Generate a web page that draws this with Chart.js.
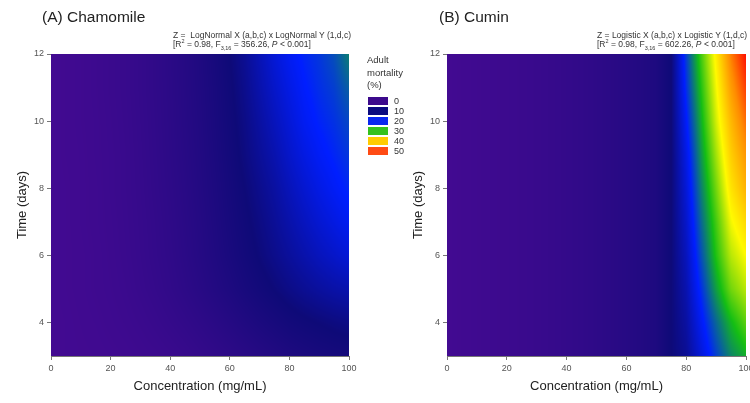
<!DOCTYPE html>
<html>
<head>
<meta charset="utf-8">
<script src="https://cdn.jsdelivr.net/npm/chart.js@4.4.1/dist/chart.umd.min.js"></script>
<style>
  body { margin: 0; width: 750px; height: 403px; overflow: hidden; background: #fff; position: relative;
         font-family: "Liberation Sans", Arial, sans-serif; color: #222; }
  canvas { position: absolute; top: 0; }
  .t { position: absolute; white-space: nowrap; line-height: 1; }
  .panel { font-size: 15.5px; }
  .eq { font-size: 8.5px; color: #333; }
  .eq sub, .eq sup { font-size: 5.5px; line-height: 0; }
  .lg { font-size: 9.5px; color: #333; line-height: 12.5px; }
  .sw { position: absolute; left: 368px; width: 20px; height: 8px; }
  .sl { position: absolute; left: 394px; font-size: 9px; color: #333; line-height: 1; }
</style>
</head>
<body>
<canvas id="chamChart" width="375" height="403" style="left:0"></canvas>
<canvas id="cuminChart" width="390" height="403" style="left:375px"></canvas>

<div class="t panel" style="left:42px;top:9px">(A) Chamomile</div>
<div class="t eq" style="left:173px;top:31px">Z =&nbsp; LogNormal X (a,b,c) x LogNormal Y (1,d,c)</div>
<div class="t eq" style="left:173px;top:40px">[R<sup>2</sup> = 0.98, F<sub>3,16</sub> = 356.26, <i>P</i> &lt; 0.001]</div>

<div class="t panel" style="left:439px;top:9px">(B) Cumin</div>
<div class="t eq" style="left:597px;top:31px">Z = Logistic X (a,b,c) x Logistic Y (1,d,c)</div>
<div class="t eq" style="left:597px;top:40px">[R<sup>2</sup> = 0.98, F<sub>3,16</sub> = 602.26, <i>P</i> &lt; 0.001]</div>

<div class="t lg" style="left:367px;top:54px">Adult<br>mortality<br>(%)</div>
<div id="legend"></div>

<script>
// concentration (mg/mL) and time (days) grid of the fitted surfaces
const CONC = [0, 5, 10, 15, 20, 25, 30, 35, 40, 45, 50, 55, 60, 65, 70, 75, 80, 85, 90, 95, 100];
const TIME = [3, 4, 5, 6, 7, 8, 9, 10, 11, 12];

const CONC_TICKS = [0, 20, 40, 60, 80, 100];
const TIME_TICKS = [4, 6, 8, 10, 12];

const LEGEND_VALUES = [0, 10, 20, 30, 40, 50];

// adult mortality (%), one row per day (3 .. 12), one value per concentration
const CHAMOMILE_Z = [
  [0, 0.1, 0.2, 0.3, 0.5, 0.7, 1.0, 1.3, 1.7, 2.2, 2.8, 3.4, 4.1, 4.8, 5.5, 6.2, 6.9, 7.5, 8.0, 8.4, 8.7],
  [0, 0.1, 0.3, 0.5, 0.8, 1.1, 1.5, 2.0, 2.6, 3.2, 3.9, 4.7, 5.6, 6.5, 7.4, 8.2, 9.0, 9.6, 10.1, 10.6, 11],
  [0, 0.2, 0.4, 0.7, 1.0, 1.4, 2.0, 2.6, 3.3, 4.1, 5.0, 6.0, 7.0, 8.1, 9.1, 10.1, 11.1, 12, 12.8, 13.5, 14],
  [0, 0.2, 0.4, 0.7, 1.1, 1.6, 2.2, 2.9, 3.6, 4.5, 5.5, 6.6, 7.8, 9.0, 10.2, 11.4, 12.6, 13.8, 15, 16, 17],
  [0, 0.2, 0.5, 0.8, 1.2, 1.7, 2.3, 3.0, 3.8, 4.7, 5.7, 6.9, 8.2, 9.5, 10.8, 12.2, 13.7, 15.2, 16.6, 17.8, 19],
  [0, 0.2, 0.5, 0.8, 1.3, 1.8, 2.4, 3.2, 4.0, 4.9, 6.0, 7.2, 8.6, 10, 11.5, 13, 14.8, 16.5, 18, 19.3, 20.5],
  [0, 0.3, 0.5, 0.9, 1.3, 1.8, 2.5, 3.3, 4.2, 5.1, 6.2, 7.5, 9.0, 10.6, 12.3, 14, 16, 17.8, 19.3, 20.4, 21.5],
  [0, 0.3, 0.6, 0.9, 1.4, 1.9, 2.6, 3.4, 4.3, 5.3, 6.4, 7.8, 9.3, 11, 13, 15, 17, 19, 20.3, 21.2, 22.5],
  [0, 0.3, 0.6, 1.0, 1.5, 2.0, 2.7, 3.5, 4.4, 5.4, 6.6, 8.0, 9.6, 11.5, 13.8, 16, 18, 19.8, 21, 22, 24],
  [0, 0.3, 0.6, 1.0, 1.5, 2.0, 2.7, 3.5, 4.5, 5.5, 6.8, 8.3, 10, 12, 14.5, 17, 19, 20.5, 21.5, 23, 26]
];

const CUMIN_Z = [
  [0, 0.3, 0.6, 0.9, 1.2, 1.5, 1.9, 2.3, 2.8, 3.3, 3.9, 4.6, 5.3, 6.1, 7, 10, 12, 17, 22, 26.5, 29],
  [0, 0.3, 0.6, 0.9, 1.2, 1.5, 1.9, 2.3, 2.8, 3.3, 3.9, 4.6, 5.3, 6.1, 7, 10, 13, 19, 24.5, 29.5, 33],
  [0, 0.3, 0.6, 0.9, 1.2, 1.5, 1.9, 2.3, 2.8, 3.3, 3.9, 4.6, 5.3, 6.1, 7, 10, 14, 21, 28, 34, 37],
  [0, 0.3, 0.6, 0.9, 1.2, 1.5, 1.9, 2.3, 2.8, 3.3, 3.9, 4.6, 5.3, 6.1, 7, 10, 15, 23, 30.5, 37, 40],
  [0, 0.3, 0.6, 0.9, 1.2, 1.5, 1.9, 2.3, 2.8, 3.3, 3.9, 4.6, 5.3, 6.1, 7, 10, 16, 24.5, 32, 39.5, 43],
  [0, 0.3, 0.6, 0.9, 1.2, 1.5, 1.9, 2.3, 2.8, 3.3, 3.9, 4.6, 5.3, 6.1, 7, 10, 17, 26, 34, 42, 46.5],
  [0, 0.3, 0.6, 0.9, 1.2, 1.5, 1.9, 2.3, 2.8, 3.3, 3.9, 4.6, 5.3, 6.1, 7, 10, 18, 27.5, 36, 44, 49],
  [0, 0.3, 0.6, 0.9, 1.2, 1.5, 1.9, 2.3, 2.8, 3.3, 3.9, 4.6, 5.3, 6.1, 7, 10, 19.5, 29, 38, 46, 52],
  [0, 0.3, 0.6, 0.9, 1.2, 1.5, 1.9, 2.3, 2.8, 3.3, 3.9, 4.6, 5.3, 6.1, 7, 10, 21, 30.5, 39.5, 48.5, 55],
  [0, 0.3, 0.6, 0.9, 1.2, 1.5, 1.9, 2.3, 2.8, 3.3, 3.9, 4.6, 5.3, 6.1, 7, 10, 22, 32, 41, 51, 58]
];

// colour ramp of the surface: [value, r, g, b]
const RAMP = [
  [0, 66, 10, 145],
  [10, 14, 10, 120],
  [20, 0, 30, 255],
  [30, 20, 190, 20],
  [40, 255, 250, 0],
  [50, 255, 140, 0],
  [58, 255, 15, 0]
];
const LEGEND_COLORS = ['#3c0a8c', '#0b0b80', '#0a28f0', '#34c21e', '#ffcc00', '#ff4b14'];

function rampColor(v) {
  if (v <= RAMP[0][0]) return RAMP[0].slice(1);
  for (let i = 0; i < RAMP.length - 1; i++) {
    const a = RAMP[i], b = RAMP[i + 1];
    if (v <= b[0]) {
      const f = (v - a[0]) / (b[0] - a[0]);
      return [a[1] + (b[1] - a[1]) * f, a[2] + (b[2] - a[2]) * f, a[3] + (b[3] - a[3]) * f];
    }
  }
  return RAMP[RAMP.length - 1].slice(1);
}

// index + fraction of a value inside a sorted axis array
function locate(arr, v) {
  if (v <= arr[0]) return [0, 0];
  const n = arr.length - 1;
  if (v >= arr[n]) return [n - 1, 1];
  let i = 0;
  while (arr[i + 1] < v) i++;
  return [i, (v - arr[i]) / (arr[i + 1] - arr[i])];
}

function makeHeatmap(grid) {
  return {
    id: 'heatmap',
    beforeDatasetsDraw(chart) {
      const { ctx, chartArea: a, scales: { x, y } } = chart;
      const w = Math.round(a.right - a.left), h = Math.round(a.bottom - a.top);
      const off = document.createElement('canvas');
      off.width = w; off.height = h;
      const octx = off.getContext('2d');
      const img = octx.createImageData(w, h);
      const cols = [];
      for (let px = 0; px < w; px++) cols.push(locate(CONC, x.getValueForPixel(a.left + px + 0.5)));
      for (let py = 0; py < h; py++) {
        const [j, fy] = locate(TIME, y.getValueForPixel(a.top + py + 0.5));
        const r0 = grid[j], r1 = grid[j + 1];
        for (let px = 0; px < w; px++) {
          const [i, fx] = cols[px];
          const top = r0[i] + (r0[i + 1] - r0[i]) * fx;
          const bot = r1[i] + (r1[i + 1] - r1[i]) * fx;
          const c = rampColor(top + (bot - top) * fy);
          const k = (py * w + px) * 4;
          img.data[k] = c[0]; img.data[k + 1] = c[1]; img.data[k + 2] = c[2]; img.data[k + 3] = 255;
        }
      }
      octx.putImageData(img, 0, 0);
      ctx.drawImage(off, a.left, a.top);
    }
  };
}

const FONT = "'Liberation Sans', Arial, sans-serif";

function axisOptions(yWidth) {
  const tickStyle = { font: { family: FONT, size: 9 }, color: '#555' };
  const grid = { drawOnChartArea: false, drawTicks: true, tickLength: 4, tickColor: '#777' };
  const border = { display: true, color: '#777', width: 1 };
  return {
    x: {
      type: 'linear', min: 0, max: 100,
      afterBuildTicks: s => { s.ticks = CONC_TICKS.map(v => ({ value: v })); },
      afterFit: s => { s.height = 47; },
      ticks: { ...tickStyle, padding: 3, maxRotation: 0 },
      grid, border,
      title: { display: true, text: 'Concentration (mg/mL)', color: '#222',
               font: { family: FONT, size: 13 }, padding: { top: 0, bottom: 9 } }
    },
    y: {
      type: 'linear', min: 3, max: 12,
      afterBuildTicks: s => { s.ticks = TIME_TICKS.map(v => ({ value: v })); },
      afterFit: s => { s.width = yWidth; },
      ticks: { ...tickStyle, padding: 3 },
      grid, border,
      title: { display: true, text: 'Time (days)', color: '#222',
               font: { family: FONT, size: 13 }, padding: { top: 7, bottom: 0 } }
    }
  };
}

function makeChart(id, grid, padLeft, yWidth, padRight) {
  return new Chart(document.getElementById(id), {
    type: 'scatter',
    data: { datasets: [{ data: [] }] },
    options: {
      responsive: false,
      animation: false,
      events: [],
      layout: { padding: { top: 54, left: padLeft, right: padRight, bottom: 0 } },
      scales: axisOptions(yWidth),
      plugins: { legend: { display: false }, tooltip: { enabled: false } }
    },
    plugins: [makeHeatmap(grid)]
  });
}

makeChart('chamChart', CHAMOMILE_Z, 8, 43, 26);
makeChart('cuminChart', CUMIN_Z, 29, 43, 19);

// colour key
const legend = document.getElementById('legend');
LEGEND_VALUES.forEach((v, i) => {
  const top = 97 + i * 10;
  const sw = document.createElement('div');
  sw.className = 'sw';
  sw.style.top = top + 'px';
  sw.style.background = LEGEND_COLORS[i];
  legend.appendChild(sw);
  const lb = document.createElement('div');
  lb.className = 'sl';
  lb.style.top = (top - 0.5) + 'px';
  lb.textContent = v;
  legend.appendChild(lb);
});
</script>
</body>
</html>
